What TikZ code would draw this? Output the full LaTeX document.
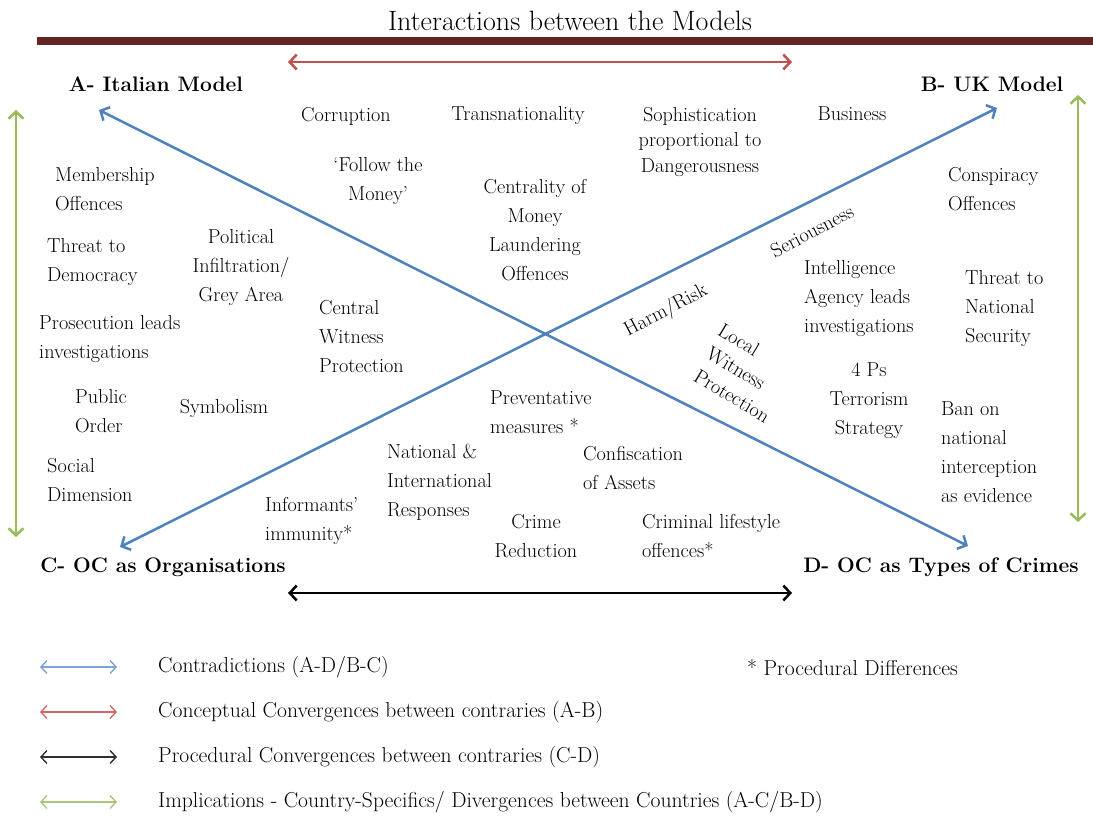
\documentclass[tikz,border=0pt]{standalone}
\usetikzlibrary{arrows.meta}
\definecolor{cblue}{HTML}{4F81BD}
\definecolor{cred}{HTML}{C0504D}
\definecolor{cgreen}{HTML}{9BBB59}
\definecolor{cbar}{HTML}{632523}
\definecolor{lblue}{HTML}{7BA3D6}
\definecolor{lred}{HTML}{D06A67}
\definecolor{lblack}{HTML}{303030}
\definecolor{lgreen}{HTML}{A9C67A}
\tikzset{
  txt/.style={font=\fontsize{20.2}{29}\selectfont, inner sep=0pt, align=left},
  ctxt/.style={font=\fontsize{20.2}{29}\selectfont, inner sep=0pt, align=center},
  legtxt/.style={font=\fontsize{21.6}{26}\selectfont, inner sep=0pt, anchor=west},
  corner/.style={font=\fontsize{21}{24}\selectfont\bfseries, inner sep=0pt},
  bigarrow/.style={line width=2.5pt, {Straight Barb[length=7pt,width=15pt]}-{Straight Barb[length=7pt,width=15pt]}},
  legarrow/.style={line width=1.4pt, {Straight Barb[length=6pt,width=13pt]}-{Straight Barb[length=6pt,width=13pt]}},
}
\begin{document}
\begin{tikzpicture}[x=1pt,y=-1pt]
\useasboundingbox (0,0) rectangle (1093,818);
% title and bar
\node[font=\fontsize{28}{32}\selectfont, inner sep=0pt] (title) at (570,21) {Interactions between the Models};
\fill[cbar] (37,37) rectangle (1093,45);
% corner labels
\node[corner] (A) at (156,84) {A- Italian Model};
\node[corner] (B) at (992,84) {B- UK Model};
\node[corner] (C) at (163,567) {C- OC as Organisations};
\node[corner] (D) at (941,567) {D- OC as Types of Crimes};
% arrow end points
\coordinate (a1) at (99,110);
\coordinate (d1) at (968,546);
\coordinate (c1) at (120,547);
\coordinate (b1) at (997,108);
\coordinate (r1) at (288,62);
\coordinate (r2) at (792,62);
\coordinate (k1) at (288,593);
\coordinate (k2) at (792,593);
\coordinate (g1) at (16,110);
\coordinate (g2) at (16,537);
\coordinate (g3) at (1078,95);
\coordinate (g4) at (1078,522);
\draw[bigarrow, cblue] (a1) -- (d1);
\draw[bigarrow, cblue] (c1) -- (b1);
\draw[bigarrow, cred] (r1) -- (r2);
\draw[bigarrow, black] (k1) -- (k2);
\draw[bigarrow, cgreen] (g1) -- (g2);
\draw[bigarrow, cgreen] (g3) -- (g4);
% left side texts
\node[txt, anchor=west] (t1) at (55,189.5) {Membership\\Offences};
\node[txt, anchor=west] (t2) at (47,262.5) {Threat to\\Democracy};
\node[txt, anchor=west] (t3) at (39,339.5) {Prosecution leads\\investigations};
\node[txt, anchor=west] (t4) at (75,411) {Public\\Order};
\node[txt, anchor=west] (t5) at (47,480.5) {Social\\Dimension};
\node[ctxt] (t6) at (241,268) {Political\\Infiltration/\\Grey Area};
\node[ctxt] (t7) at (224,408) {Symbolism};
\node[txt, anchor=west] (t8) at (319,337) {Central\\Witness\\Protection};
% top texts
\node[ctxt] (t9) at (346,116) {Corruption};
\node[ctxt] (t10) at (378,181.5) {‘Follow the\\Money’};
\node[ctxt] (t11) at (518,116) {Transnationality};
\node[ctxt] (t12) at (535,230) {Centrality of\\Money\\Laundering\\Offences};
\node[ctxt, font=\fontsize{20.2}{25.5}\selectfont] (t13) at (700,142) {Sophistication\\proportional to\\Dangerousness};
\node[ctxt] (t14) at (852,114) {Business};
% right side texts
\node[txt, anchor=west] (t15) at (948,189) {Conspiracy\\Offences};
\node[ctxt, rotate=28] (t16) at (812,231) {Seriousness};
\node[txt, anchor=west] (t17) at (804,299) {Intelligence\\Agency leads\\investigations};
\node[txt, anchor=west] (t18) at (965,309) {Threat to\\National\\Security};
\node[ctxt, rotate=28] (t19) at (666,311) {Harm/Risk};
\node[ctxt, rotate=-31] (t20) at (739,340) {Local};
\node[ctxt, rotate=-31] (t21) at (736,368) {Witness};
\node[ctxt, rotate=-31] (t22) at (732,396) {Protection};
\node[ctxt] (t23) at (869,401) {4 Ps\\Terrorism\\Strategy};
\node[txt, anchor=west] (t24) at (941,452) {Ban on\\national\\interception\\as evidence};
% bottom texts
\node[txt, anchor=west] (t25) at (490,412.5) {Preventative\\measures *};
\node[txt, anchor=west] (t26) at (387,482) {National \&\\International\\Responses};
\node[txt, anchor=west] (t27) at (583,467.5) {Confiscation\\of Assets};
\node[txt, anchor=west] (t28) at (265,520.5) {Informants’\\immunity*};
\node[ctxt] (t29) at (536,536.5) {Crime\\Reduction};
\node[txt, anchor=west] (t30) at (642,536) {Criminal lifestyle\\offences*};
% legend
\coordinate (l1a) at (40,667); \coordinate (l1b) at (117,667);
\coordinate (l2a) at (40,712); \coordinate (l2b) at (117,712);
\coordinate (l3a) at (40,757); \coordinate (l3b) at (117,757);
\coordinate (l4a) at (40,802); \coordinate (l4b) at (117,802);
\draw[legarrow, lblue] (l1a) -- (l1b);
\draw[legarrow, lred] (l2a) -- (l2b);
\draw[legarrow, lblack] (l3a) -- (l3b);
\draw[legarrow, lgreen] (l4a) -- (l4b);
\node[legtxt] (L1) at (158,667) {Contradictions (A-D/B-C)};
\node[legtxt] (L2) at (158,712) {Conceptual Convergences between contraries (A-B)};
\node[legtxt] (L3) at (158,757) {Procedural Convergences between contraries (C-D)};
\node[legtxt] (L4) at (158,802) {Implications - Country-Specifics/ Divergences between Countries (A-C/B-D)};
\node[legtxt] (L5) at (747,667) {* Procedural Differences};
\end{tikzpicture}
\end{document}
